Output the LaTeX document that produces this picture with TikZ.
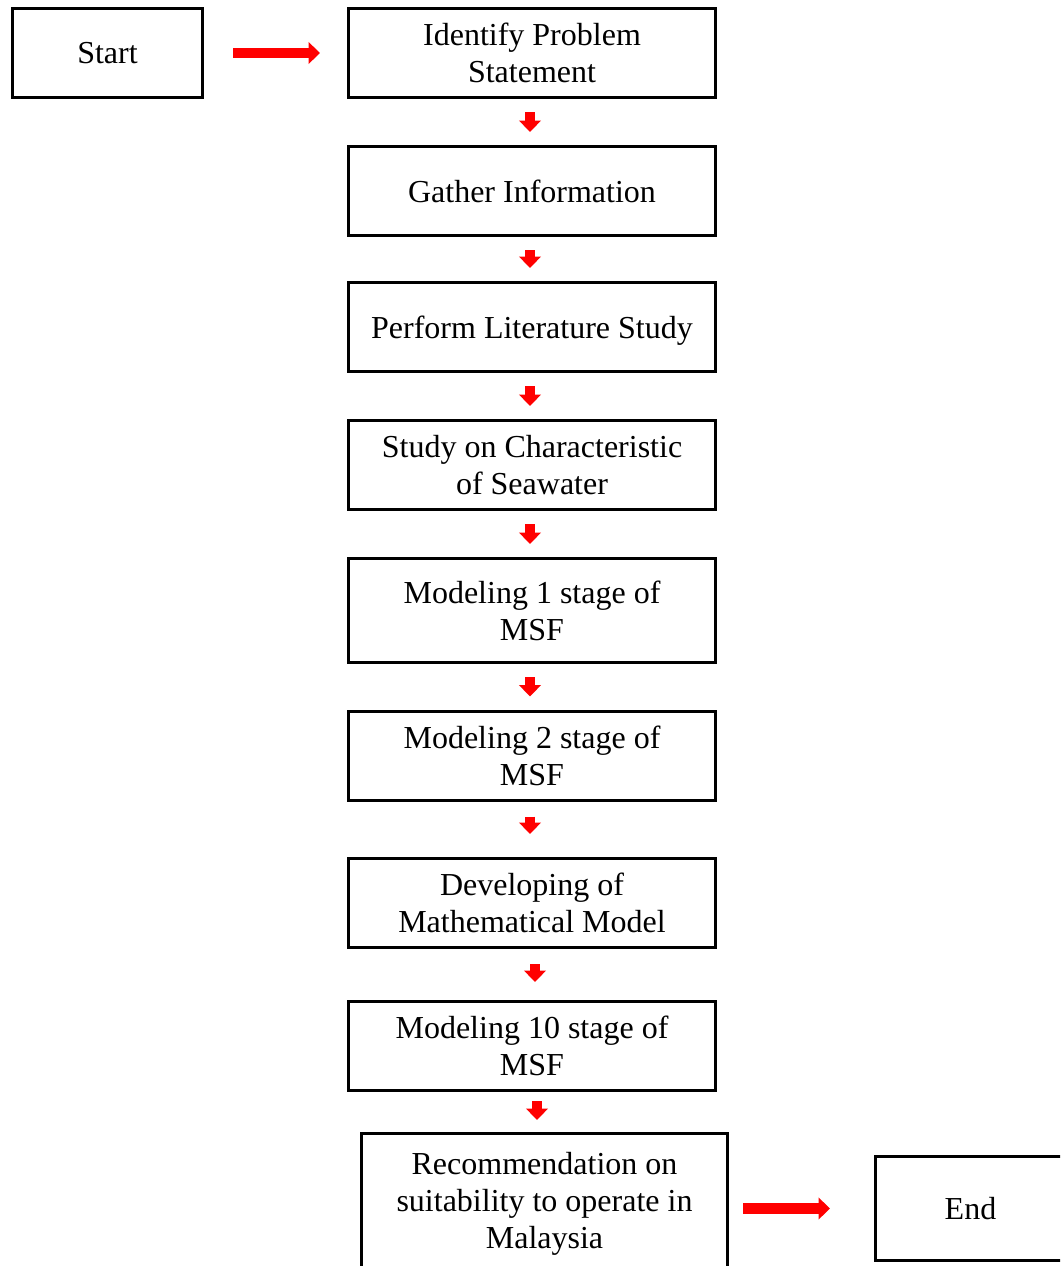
\documentclass[tikz,border=0pt]{standalone}
\usepackage{fontspec}
\setmainfont{Liberation Serif}
\usetikzlibrary{arrows.meta, positioning}

\begin{document}
\begin{tikzpicture}[
            x=1pt, y=-1pt,
            % Stile per i riquadri
            box/.style={draw=black, line width=3pt, align=center,
                        minimum width=367pt, minimum height=89pt, inner sep=0pt,
                        font=\fontsize{32}{37}\selectfont},
            % Stile per le frecce rosse
            redarrow/.style={draw=red, line width=10.5pt,
                        -{Triangle[width=21.5pt, length=11.5pt]},
                        shorten <=13pt, shorten >=13pt}
        ]

            \clip (0,0) rectangle (1060,1266);

            % --- Inizio ---
            \node[box, minimum width=190pt] (start) at (107.5,53) {Start};

            % --- Colonna centrale ---
            \node[box] (ident) at (532,53) {Identify Problem\\Statement};
            \node[box] (gather) at (532,191) {Gather Information};
            \node[box, text depth=0pt] (lit) at (532,327) {Perform Literature Study};
            \node[box] (sea) at (532,465) {Study on Characteristic\\of Seawater};
            \node[box, minimum height=104pt] (msfone) at (532,610.5) {Modeling 1 stage of\\MSF};
            \node[box] (msftwo) at (532,755.5) {Modeling 2 stage of\\MSF};
            \node[box] (mathmod) at (532,903) {Developing of\\Mathematical Model};
            \node[box] (msften) at (532,1046) {Modeling 10 stage of\\MSF};
            \node[box, minimum width=366pt, minimum height=140pt] (recom) at (544.5,1203.5)
                {Recommendation on\\suitability to operate in\\Malaysia};

            % --- Fine ---
            \node[box, minimum width=190pt, minimum height=104pt] (finish) at (970.5,1208.5) {End};

            % Frecce
            \draw[redarrow, shorten <=29pt, shorten >=27pt] (start) -- (ident);
            \foreach \a/\b in {ident/gather, gather/lit, lit/sea, sea/msfone, msfone/msftwo}
                \draw[redarrow] ([xshift=-2pt]\a.south) -- ([xshift=-2pt]\b.north);
            \draw[redarrow, shorten <=15pt, shorten >=23pt] ([xshift=-2pt]msftwo.south) -- ([xshift=-2pt]mathmod.north);
            \draw[redarrow, shorten <=15pt, shorten >=18pt] ([xshift=3pt]mathmod.south) -- ([xshift=3pt]msften.north);
            \draw[redarrow, shorten <=9pt, shorten >=12pt] ([xshift=5pt]msften.south) -- ([xshift=5pt]msften.south |- recom.north);
            \draw[redarrow, shorten <=14pt, shorten >=44pt] (recom.east |- finish.west) -- (finish.west);

        \end{tikzpicture}
\end{document}
